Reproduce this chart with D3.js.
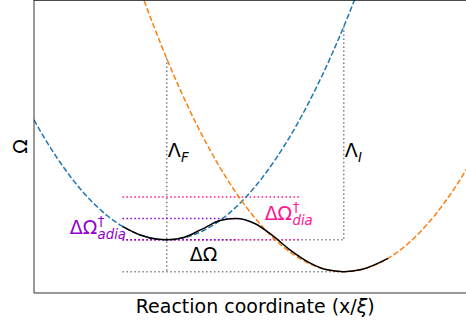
<!DOCTYPE html>
<html><head><meta charset="utf-8">
<script src="https://cdn.jsdelivr.net/npm/d3@7"></script>
<style>
body{margin:0;background:#fff}
svg{display:block}
text{font-family:"DejaVu Sans",sans-serif}
</style>
</head><body>
<svg id="chart" width="466" height="323"></svg>
<script>
// ---------------- data ----------------
const xDomain = [-0.75, 1.75];
const yDomain = [-0.25, 1.125];
const stateNames = ["I", "F"];
const stateCenters = [0, 1];
const stateMinima = [0, -0.15];
const stateCurvature = [1, 1];
// adiabatic ground-state curve
const adiaX = [-0.25, -0.15, -0.05, 0, 0.1, 0.2, 0.3, 0.39, 0.5, 0.6, 0.7, 0.8, 0.9, 1.0, 1.1, 1.25];
const adiaE = [0.0625, 0.022, 0.002, 0.0, 0.012, 0.05, 0.09, 0.10, 0.075, 0.018, -0.05, -0.105, -0.14, -0.15, -0.14, -0.0875];
const diaLevels = [0, 0.2];
const diaSpan = [-0.25, 0.75];
const adiaLevels = [0, 0.1];
const adiaSpan = [-0.25, 0.39];
const guideStart = [-0.25];
const xLabelParts = ["Reaction coordinate (x/", "ξ", ")"];
const yLabel = "Ω";
const annoMain = ["Λ", "Λ", "ΔΩ", "ΔΩ", "ΔΩ"];
const annoSup = ["", "", "", "†", "†"];
const annoSub = ["F", "I", "", "adia", "dia"];
const annoX = [0.005, 1.005, 0.13, -0.548, 0.553];
const annoY = [0.39, 0.39, -0.1, 0.027, 0.093];

// ---------------- layout ----------------
const svg = d3.select("#chart");
const mL = 34, mT = 0, mR = 476.5, mB = 293;
const x = d3.scaleLinear().domain(xDomain).range([mL, mR]);
const y = d3.scaleLinear().domain(yDomain).range([mB, mT]);

const colBlue = "#1f77b4", colOrange = "#ff7f0e", colPurple = "#9400d3", colPink = "#ff1493", colGrey = "#808080";
const annoColors = ["#000", "#000", "#000", colPurple, colPink];

svg.append("defs").append("clipPath").attr("id", "clip")
  .append("rect").attr("x", mL).attr("y", mT).attr("width", mR - mL).attr("height", mB - mT);

const U = (i, xv) => stateCurvature[i] * (xv - stateCenters[i]) ** 2 + stateMinima[i];

const g = svg.append("g").attr("clip-path", "url(#clip)");
const line = d3.line().x(d => x(d[0])).y(d => y(d[1]));
const dotted = (pts, color) => g.append("path").attr("d", line(pts)).attr("fill", "none")
  .attr("stroke", color).attr("stroke-width", 1.5).attr("stroke-dasharray", "1.5,2.475");

// grey guide lines
const x0 = stateCenters[0], x1 = stateCenters[1];
dotted([[x0, U(1, x0)], [x0, stateMinima[1]]], colGrey);
dotted([[guideStart[0], stateMinima[1]], [x1, stateMinima[1]]], colGrey);
dotted([[x1, U(0, x1)], [x1, stateMinima[0]]], colGrey);
dotted([[guideStart[0], stateMinima[0]], [x1, stateMinima[0]]], colGrey);

// diabatic barrier (pink)
diaLevels.forEach(l => dotted([[diaSpan[0], l], [diaSpan[1], l]], colPink));
// adiabatic barrier (purple)
adiaLevels.forEach(l => dotted([[adiaSpan[0], l], [adiaSpan[1], l]], colPurple));

// diabatic parabolas
const xs = d3.range(xDomain[0], xDomain[1] + 1e-9, 0.005);
[colBlue, colOrange].forEach((c, i) => {
  g.append("path").attr("d", line(xs.map(v => [v, U(i, v)])))
    .attr("fill", "none").attr("stroke", c).attr("stroke-width", 1.5)
    .attr("stroke-dasharray", "5.55,2.4");
});

// adiabatic ground state
const smooth = d3.line().x(d => x(d[0])).y(d => y(d[1])).curve(d3.curveMonotoneX);
g.append("path").attr("d", smooth(adiaX.map((v, i) => [v, adiaE[i]])))
  .attr("fill", "none").attr("stroke", "#000").attr("stroke-width", 1.5);

// spines
const sp = svg.append("g").attr("stroke", "#000").attr("stroke-width", 0.8);
sp.append("line").attr("x1", mL).attr("x2", mL).attr("y1", mT).attr("y2", mB);
sp.append("line").attr("x1", mL).attr("x2", mR).attr("y1", mB).attr("y2", mB);
sp.append("line").attr("x1", mL).attr("x2", mR).attr("y1", mT + 0.4).attr("y2", mT + 0.4);
sp.append("line").attr("x1", mR).attr("x2", mR).attr("y1", mT).attr("y2", mB);

// axis labels
const xl = svg.append("text").attr("x", (mL + mR) / 2).attr("y", 312.5).attr("text-anchor", "middle")
  .attr("font-size", 19);
xLabelParts.forEach((p, i) => xl.append("tspan").attr("font-style", i === 1 ? "italic" : "normal").text(p));
svg.append("text").attr("transform", `translate(26.5,${(mT + mB) / 2}) rotate(-90)`)
  .attr("text-anchor", "middle").attr("font-size", 19).text(yLabel);

// annotations (mathtext-like)
annoMain.forEach((m, i) => {
  const px = x(annoX[i]), py = y(annoY[i]);
  const t = svg.append("text").attr("x", px).attr("y", py).attr("font-size", 19)
    .attr("fill", annoColors[i]).text(m);
  const w = t.node().getComputedTextLength();
  if (annoSup[i]) svg.append("text").attr("x", px + w + 0.5).attr("y", py - 8)
    .attr("font-size", 13.3).attr("fill", annoColors[i]).text(annoSup[i]);
  if (annoSub[i]) svg.append("text").attr("x", px + w + 0.3).attr("y", py + 5)
    .attr("font-size", 13.3).attr("font-style", "italic").attr("fill", annoColors[i]).text(annoSub[i]);
});
</script>
</body></html>
